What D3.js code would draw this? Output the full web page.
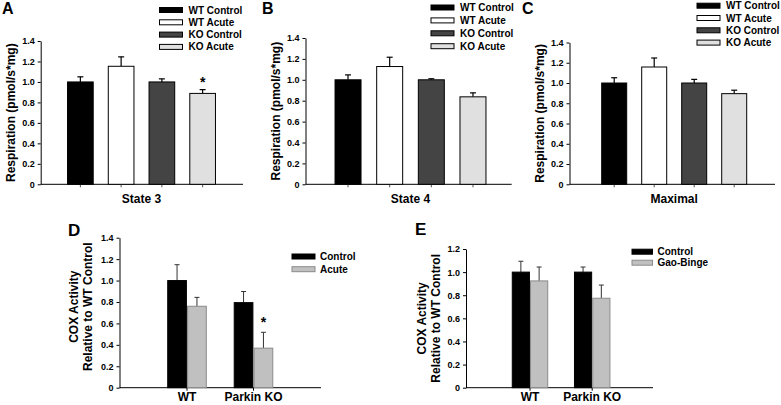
<!DOCTYPE html>
<html>
<head>
<meta charset="utf-8">
<script src="https://cdn.jsdelivr.net/npm/d3@7/dist/d3.min.js"></script>
<style>
  html, body { margin: 0; padding: 0; background: #fff; }
  svg { display: block; font-family: "Liberation Sans", Arial, sans-serif; font-weight: bold; }
</style>
</head>
<body>
<svg id="chart" width="781" height="405"></svg>
<script>
// ---------------- DATA ----------------
const respCategories = ["WT Control", "WT Acute", "KO Control", "KO Acute"];
const state3Mean = [1.0, 1.153, 1.0, 0.888];
const state3Err  = [0.05, 0.092, 0.03, 0.037];
const state3Sig  = [false, false, false, true];
const state4Mean = [1.0, 1.127, 1.0, 0.837];
const state4Err  = [0.047, 0.089, 0.01, 0.038];
const state4Sig  = [false, false, false, false];
const maximalMean = [1.0, 1.158, 1.0, 0.895];
const maximalErr  = [0.052, 0.089, 0.036, 0.034];
const maximalSig  = [false, false, false, false];
const respTicks = [0, 0.2, 0.4, 0.6, 0.8, 1.0, 1.2, 1.4];

const genotypes = ["WT", "Parkin KO"];
const coxDSeries = ["Control", "Acute"];
const coxDControl = [1.0, 0.794];
const coxDControlErr = [0.148, 0.104];
const coxDAcute = [0.76, 0.369];
const coxDAcuteErr = [0.083, 0.148];
const coxDSig = [[false, false], [false, true]];
const coxDTicks = [0, 0.2, 0.4, 0.6, 0.8, 1.0, 1.2, 1.4];

const coxESeries = ["Control", "Gao-Binge"];
const coxEControl = [1.0, 1.0];
const coxEControlErr = [0.094, 0.044];
const coxEBinge = [0.924, 0.774];
const coxEBingeErr = [0.12, 0.114];
const coxETicks = [0, 0.2, 0.4, 0.6, 0.8, 1.0, 1.2];

// ---------------- STYLE ----------------
const respFill = ["#000000", "#ffffff", "#444444", "#e0e0e0"];
const coxFill = ["#000000", "#c0c0c0"];
const coxStroke = ["#000000", "#8a8a8a"];
const fmt = d => d === 0 ? "0" : d3.format(".1f")(d);

const svg = d3.select("#chart");

function styleAxis(ax, size) {
  ax.selectAll("text").attr("font-size", size).attr("font-weight", "bold")
    .attr("fill", "#000").attr("font-family", "'Liberation Sans', Arial, sans-serif");
  ax.selectAll("line").attr("stroke", "#000");
  ax.select(".domain").attr("stroke", "#000");
}

function respPanel(cfg, means, errs, sig, xlabel) {
  const g = svg.append("g");
  const y = d3.scaleLinear().domain([0, 1.4]).range([cfg.yBottom, cfg.yTop]);
  const x = d3.scaleBand().domain(respCategories).range(cfg.band)
    .paddingInner(cfg.pad).paddingOuter(cfg.pad / 2);

  const ya = g.append("g").attr("transform", `translate(${cfg.x0},0)`)
    .call(d3.axisLeft(y).tickValues(respTicks).tickFormat(fmt).tickSize(3).tickSizeOuter(0).tickPadding(3));
  styleAxis(ya, 9);
  g.append("line").attr("x1", cfg.x0).attr("x2", cfg.x1)
    .attr("y1", y(0)).attr("y2", y(0)).attr("stroke", "#000");
  const xa = g.append("g").attr("transform", `translate(0,${y(0)})`)
    .call(d3.axisBottom(x).tickSize(3).tickSizeOuter(0).tickFormat(""));
  xa.select(".domain").remove();
  xa.selectAll("line").attr("stroke", "#555");

  respCategories.forEach((c, i) => {
    const cx = x(c) + x.bandwidth() / 2;
    g.append("line").attr("x1", cx).attr("x2", cx)
      .attr("y1", y(means[i])).attr("y2", y(means[i] + errs[i])).attr("stroke", "#000").attr("stroke-width", 1.2);
    g.append("line").attr("x1", cx - 3).attr("x2", cx + 3)
      .attr("y1", y(means[i] + errs[i])).attr("y2", y(means[i] + errs[i])).attr("stroke", "#000").attr("stroke-width", 1.2);
    if (sig[i]) {
      g.append("text").attr("x", cx).attr("y", y(means[i] + errs[i]) - 3)
        .attr("text-anchor", "middle").attr("font-size", 14).text("*");
    }
  });
  g.selectAll("rect.bar").data(respCategories).enter().append("rect")
    .attr("x", d => x(d)).attr("width", x.bandwidth())
    .attr("y", (d, i) => y(means[i])).attr("height", (d, i) => y(0) - y(means[i]))
    .attr("fill", (d, i) => respFill[i]).attr("stroke", "#000").attr("stroke-width", 1);

  g.append("text").attr("x", (cfg.band[0] + cfg.band[1]) / 2).attr("y", 203)
    .attr("text-anchor", "middle").attr("font-size", 12).text(xlabel);
  g.append("text").attr("transform", `translate(${cfg.x0 - 26},${(cfg.yTop + cfg.yBottom) / 2}) rotate(-90)`)
    .attr("text-anchor", "middle").attr("font-size", 12).text("Respiration (pmol/s*mg)");
  g.append("text").attr("x", cfg.letterX).attr("y", 13.5).attr("font-size", 16).text(cfg.letter);
  respCategories.forEach((c, i) => {
    const ly = cfg.legY + i * cfg.legStep;
    g.append("rect").attr("x", cfg.legX).attr("y", ly - 2.5).attr("width", 23).attr("height", 5)
      .attr("fill", respFill[i]).attr("stroke", "#000").attr("stroke-width", 1);
    g.append("text").attr("x", cfg.legX + 29).attr("y", ly).attr("dy", "0.35em")
      .attr("font-size", 10).text(c);
  });
}

respPanel({x0: 40.7, x1: 243, yTop: 41, yBottom: 184.3, band: [60, 223], pad: 0.37,
  letter: "A", letterX: 2, legX: 159.5, legY: 10, legStep: 12.3}, state3Mean, state3Err, state3Sig, "State 3");
respPanel({x0: 305.5, x1: 511.7, yTop: 38, yBottom: 184.3, band: [327.2, 493.8], pad: 0.376,
  letter: "B", letterX: 262, legX: 431, legY: 7.5, legStep: 12.9}, state4Mean, state4Err, state4Sig, "State 4");
respPanel({x0: 569.5, x1: 775, yTop: 42.5, yBottom: 184.3, band: [594.2, 754.2], pad: 0.375,
  letter: "C", letterX: 522, legX: 697, legY: 5.7, legStep: 12.3}, maximalMean, maximalErr, maximalSig, "Maximal");

function coxPanel(cfg, series, s0, e0, s1, e1, ticks, sig) {
  const g = svg.append("g");
  const y = d3.scaleLinear().domain([0, cfg.yMax]).range([cfg.yBottom, cfg.yTop]);
  const x = d3.scaleBand().domain(genotypes).range(cfg.band)
    .paddingInner(cfg.pad).paddingOuter(cfg.pad / 2);
  const xi = d3.scaleBand().domain(series).range([0, x.bandwidth()]).paddingInner(0.06);
  const means = [s0, s1], errs = [e0, e1];

  const ya = g.append("g").attr("transform", `translate(${cfg.x0},0)`)
    .call(d3.axisLeft(y).tickValues(ticks).tickFormat(fmt).tickSize(3).tickSizeOuter(0).tickPadding(3));
  styleAxis(ya, 9);
  g.append("line").attr("x1", cfg.x0).attr("x2", cfg.x1)
    .attr("y1", y(0)).attr("y2", y(0)).attr("stroke", "#000");
  const xa = g.append("g").attr("transform", `translate(0,${y(0)})`)
    .call(d3.axisBottom(x).tickSize(3).tickSizeOuter(0).tickPadding(1.5));
  xa.select(".domain").remove();
  styleAxis(xa, 12);

  series.forEach((s, si) => {
    genotypes.forEach((gname, gi) => {
      const bx = x(gname) + xi(s);
      const cx = bx + xi.bandwidth() / 2;
      const m = means[si][gi], e = errs[si][gi];
      g.append("line").attr("x1", cx).attr("x2", cx).attr("y1", y(m)).attr("y2", y(m + e))
        .attr("stroke", "#333").attr("stroke-width", 1);
      g.append("line").attr("x1", cx - 2.5).attr("x2", cx + 2.5).attr("y1", y(m + e)).attr("y2", y(m + e))
        .attr("stroke", "#333").attr("stroke-width", 1);
      g.append("rect").attr("x", bx).attr("width", xi.bandwidth())
        .attr("y", y(m)).attr("height", y(0) - y(m))
        .attr("fill", coxFill[si]).attr("stroke", coxStroke[si]).attr("stroke-width", 1);
      if (sig && sig[gi][si]) {
        g.append("text").attr("x", cx).attr("y", y(m + e) - 5)
          .attr("text-anchor", "middle").attr("font-size", 14).text("*");
      }
    });
  });

  const cy = (cfg.yTop + cfg.yBottom) / 2 + cfg.labShift;
  g.append("text").attr("transform", `translate(${cfg.labX},${cy}) rotate(-90)`)
    .attr("text-anchor", "middle").attr("font-size", 12).text("COX Activity");
  g.append("text").attr("transform", `translate(${cfg.labX + 13.5},${cy}) rotate(-90)`)
    .attr("text-anchor", "middle").attr("font-size", 12).text("Relative to WT Control");
  g.append("text").attr("x", cfg.letterX).attr("y", cfg.letterY).attr("font-size", 17).text(cfg.letter);

  series.forEach((s, i) => {
    const ly = cfg.legY + i * cfg.legStep;
    g.append("rect").attr("x", cfg.legX).attr("y", ly - 2.5).attr("width", cfg.legW).attr("height", 5)
      .attr("fill", coxFill[i]).attr("stroke", coxStroke[i]).attr("stroke-width", 1);
    g.append("text").attr("x", cfg.legX + cfg.legW + 5).attr("y", ly).attr("dy", "0.35em")
      .attr("font-size", 10).text(s);
  });
}

coxPanel({x0: 119.5, x1: 321, yTop: 237.7, yBottom: 387.7, yMax: 1.4, band: [153.75, 286.75], pad: 0.42,
  labX: 78, labShift: -6, letter: "D", letterX: 68, letterY: 236, legX: 292, legY: 256.5, legStep: 12.7, legW: 23},
  coxDSeries, coxDControl, coxDControlErr, coxDAcute, coxDAcuteErr, coxDTicks, coxDSig);
coxPanel({x0: 466, x1: 653, yTop: 249, yBottom: 387.7, yMax: 1.2, band: [498.9, 623.3], pad: 0.43,
  labX: 426, labShift: 0, letter: "E", letterX: 415, letterY: 235, legX: 632, legY: 251.7, legStep: 11, legW: 20.5},
  coxESeries, coxEControl, coxEControlErr, coxEBinge, coxEBingeErr, coxETicks, null);
</script>
</body>
</html>
